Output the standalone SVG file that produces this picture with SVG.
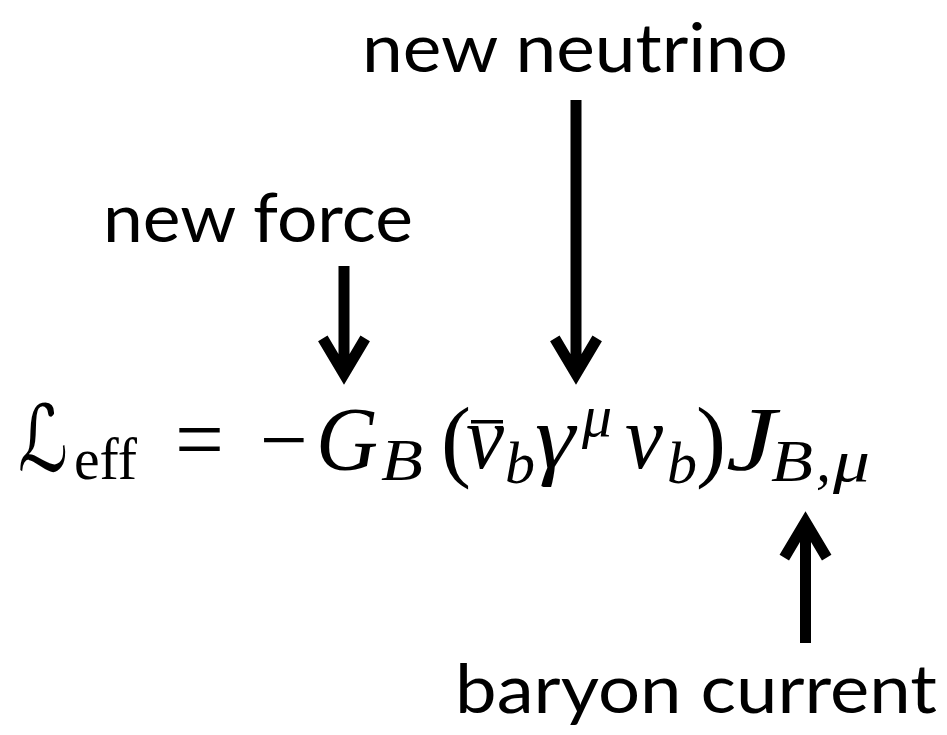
<svg xmlns="http://www.w3.org/2000/svg" width="947" height="735" viewBox="0 0 947 735">
<style>
.lbl{font-family:Lato,"Open Sans","Liberation Sans",sans-serif;font-size:68px;fill:#000}
.m{font-family:"Liberation Serif","DejaVu Serif",serif;font-style:italic;fill:#000}
.r{font-family:"Liberation Serif","DejaVu Serif",serif;fill:#000}
.big{font-size:90px}
.sub{font-size:60px}
.arr{fill:none;stroke:#000;stroke-width:11;stroke-linejoin:miter;stroke-linecap:butt;stroke-miterlimit:10}
</style>
<rect width="947" height="735" fill="#fff"/>
<g id="label-neutrino"><text class="lbl" x="362" y="72" textLength="426" lengthAdjust="spacingAndGlyphs">new neutrino</text></g>
<g id="label-force"><text class="lbl" x="103" y="242" textLength="310" lengthAdjust="spacingAndGlyphs">new force</text></g>
<g id="label-baryon"><text class="lbl" x="455" y="713" textLength="482" lengthAdjust="spacingAndGlyphs">baryon current</text></g>
<g id="equation">
<text class="r big" x="18" y="471" textLength="50" lengthAdjust="spacingAndGlyphs" style="font-family:'DejaVu Serif','DejaVu Sans',serif;font-style:italic;font-size:92px">ℒ</text>
<text class="r sub" x="74" y="479" textLength="63" lengthAdjust="spacingAndGlyphs">eff</text>
<text class="r big" x="175" y="470" textLength="49" lengthAdjust="spacingAndGlyphs">=</text>
<text class="r big" x="260" y="470" textLength="48" lengthAdjust="spacingAndGlyphs">−</text>
<text class="m big" x="316" y="470" textLength="62" lengthAdjust="spacingAndGlyphs">G</text>
<text class="m sub" x="381" y="480" textLength="42" lengthAdjust="spacingAndGlyphs">B</text>
<text class="r big" x="441" y="470">(</text>
<rect x="471" y="420" width="32" height="3.5" fill="#000"/>
<text class="m big" x="466" y="468" textLength="38" lengthAdjust="spacingAndGlyphs">ν</text>
<text class="m sub" x="505" y="483">b</text>
<text class="m big" x="535" y="468" textLength="40" lengthAdjust="spacingAndGlyphs">γ</text>
<text class="m sub" x="582" y="436">μ</text>
<text class="m big" x="625" y="468" textLength="38" lengthAdjust="spacingAndGlyphs">ν</text>
<text class="m sub" x="667" y="483">b</text>
<text class="r big" x="696" y="470">)</text>
<text class="m big" x="726" y="470" textLength="50" lengthAdjust="spacingAndGlyphs">J</text>
<text class="m sub" x="771" y="481" textLength="42" lengthAdjust="spacingAndGlyphs">B</text>
<text class="m sub" x="816" y="481">,</text>
<text class="m sub" x="833" y="481" textLength="37" lengthAdjust="spacingAndGlyphs">μ</text>
</g>
<g id="connectors">
<path class="arr" d="M344 266V374M322.8 338.4L344 374L365.2 338.4"/>
<path class="arr" d="M576 100V374M554.8 338.4L576 374L597.2 338.4"/>
<path class="arr" d="M805.5 643V522M784.3 557.6L805.5 522L826.7 557.6"/>
</g>
</svg>
